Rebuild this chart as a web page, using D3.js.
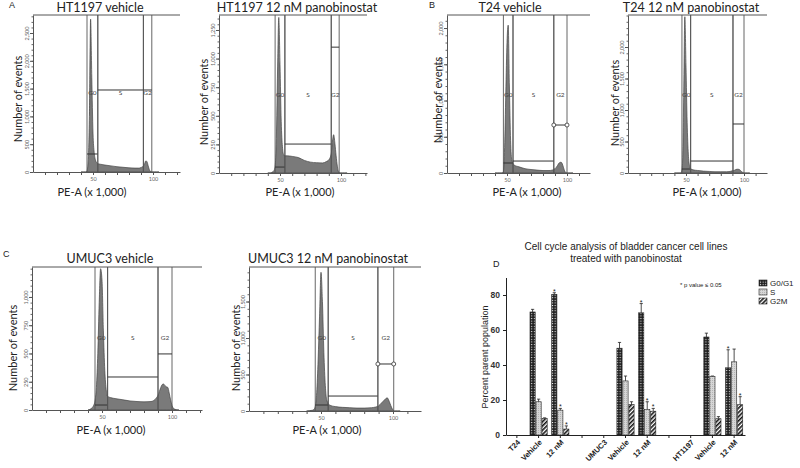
<!DOCTYPE html>
<html lang="en">
<head>
<meta charset="UTF-8">
<title>Cell cycle analysis of bladder cancer cell lines</title>
<script src="https://d3js.org/d3.v7.min.js"></script>
<style>
  body { margin: 0; background: #fff; }
  svg { display: block; background: #fff; }
  .hist text { font-family: Lato, "Open Sans", sans-serif; }
  .bars text { font-family: "Liberation Sans", Arial, sans-serif; }
</style>
</head>
<body>
<svg id="svg" width="800" height="468"></svg>
<script>
// PE-A channel (x 1,000) positions where the histograms were read
const peGrid = [40, 42, 44, 45, 46, 47, 48, 49, 50, 51, 52, 53, 54, 56, 60, 65, 70, 75, 80, 85, 88, 90, 92, 93, 94, 95, 96, 97, 98, 99, 100, 101, 103, 105];

// number of events at each peGrid point
const ht1197VehCounts = [0, 0, 0, 20, 200, 1000, 2750, 1700, 700, 350, 220, 170, 150, 140, 125, 110, 95, 85, 75, 70, 70, 80, 110, 150, 200, 185, 110, 40, 8, 0, 0, 0, 0, 0];
const ht1197PanoCounts = [0, 0, 10, 20, 60, 300, 900, 1360, 950, 450, 230, 160, 150, 150, 145, 135, 110, 95, 90, 88, 100, 115, 170, 280, 335, 260, 150, 60, 10, 0, 0, 0, 0, 0];
const t24VehCounts = [0, 0, 0, 0, 0, 20, 350, 1100, 1800, 2040, 1200, 450, 180, 110, 85, 60, 48, 40, 34, 34, 42, 60, 100, 130, 145, 150, 130, 80, 30, 5, 0, 0, 0, 0];
const t24PanoCounts = [0, 0, 0, 0, 10, 150, 1200, 2480, 1700, 800, 300, 120, 70, 50, 40, 30, 25, 20, 20, 20, 25, 35, 45, 55, 60, 60, 55, 40, 20, 8, 0, 0, 0, 0];
const umuc3VehCounts = [0, 10, 40, 80, 200, 500, 950, 1250, 1150, 700, 350, 180, 120, 110, 100, 90, 80, 75, 72, 75, 95, 130, 200, 225, 230, 215, 205, 200, 150, 90, 40, 15, 3, 0];
const umuc3PanoCounts = [0, 5, 10, 20, 60, 250, 700, 1300, 1900, 1500, 800, 350, 150, 80, 60, 50, 45, 40, 40, 45, 55, 70, 110, 130, 150, 170, 180, 150, 100, 50, 15, 0, 0, 0];

// gates: [from PE, to PE, marker level in events]
const gateNames = ["G0", "S", "G2"];
const ht1197VehGates = [[45, 54, 324], [54, 92, 1475], [92, 99, 1475]];
const ht1197PanoGates = [[46, 54, 52], [54, 92, 253], [92, 98.5, 1100]];
const t24VehGates = [[47, 55, 138], [55, 89, 165], [89, 100, 662]];
const t24PanoGates = [[46.5, 54, 63], [54, 90.5, 190], [90.5, 100, 778]];
const umuc3VehGates = [[45, 54, 44], [54, 90, 292], [90, 100, 496]];
const umuc3PanoGates = [[46, 55, 82], [55, 89.5, 205], [89.5, 100.5, 644]];

// y tick labels
const ht1197VehTicks = [0, 500, 1000, 1500, 2000, 2500];
const ht1197PanoTicks = [0, 250, 500, 750, 1000, 1250];
const t24VehTicks = [0, 500, 1000, 1500, 2000];
const t24PanoTicks = [0, 500, 1000, 1500, 2000];
const umuc3VehTicks = [0, 250, 500, 750, 1000];
const umuc3PanoTicks = [0, 500, 1000, 1500];
const peLabelTicks = [50, 100];

// panel D
const xLabels = ["T24", "Vehicle", "12 nM", "", "UMUC3", "Vehicle", "12 nM", "", "HT1197", "Vehicle", "12 nM"];
const barSlot = [1, 2, 5, 6, 9, 10];
const phases = ["G0/G1", "S", "G2M"];
const g0g1Mean = [70.3, 80.4, 49.6, 69.8, 56.0, 38.4];
const g0g1Err = [1.5, 0.9, 3.3, 5.3, 2.2, 10.3];
const sMean = [19.0, 14.2, 30.9, 14.5, 33.4, 41.8];
const sErr = [1.5, 1.0, 2.8, 4.5, 0.3, 7.3];
const g2mMean = [9.4, 3.4, 17.4, 13.6, 9.3, 17.3];
const g2mErr = [0.4, 1.8, 1.6, 1.6, 1.2, 4.6];
const g0g1Sig = [false, true, false, true, false, true];
const sSig = [false, true, false, true, false, false];
const g2mSig = [false, true, false, true, false, true];
const yTicksD = [0, 20, 40, 60, 80];

const svg = d3.select("#svg");

// ---------- flow cytometry histograms ----------
const panels = [
  {title: "HT1197 vehicle", counts: ht1197VehCounts, gates: ht1197VehGates, yTicks: ht1197VehTicks, yMax: 2824,
   left: 33, right: 180, top: 15, bottom: 172, k: 1.2, labelAt: 1385, handles: false,
   titleX: 100, titleY: 12, ylabX: 18, ylabY: 99, xlabX: 92, xlabY: 196},
  {title: "HT1197 12 nM panobinostat", counts: ht1197PanoCounts, gates: ht1197PanoGates, yTicks: ht1197PanoTicks, yMax: 1381,
   left: 219, right: 367, top: 15, bottom: 173, k: 1.22, labelAt: 664, handles: false,
   titleX: 297, titleY: 12, ylabX: 204, ylabY: 102, xlabX: 300, xlabY: 196},
  {title: "T24 vehicle", counts: t24VehCounts, gates: t24VehGates, yTicks: t24VehTicks, yMax: 2180,
   left: 447, right: 590, top: 15, bottom: 173, k: 1.2, labelAt: 1048, handles: true,
   titleX: 510, titleY: 12, ylabX: 438, ylabY: 100, xlabX: 527, xlabY: 196},
  {title: "T24 12 nM panobinostat", counts: t24PanoCounts, gates: t24PanoGates, yTicks: t24PanoTicks, yMax: 2508,
   left: 628, right: 767, top: 15, bottom: 173, k: 1.16, labelAt: 1206, handles: false,
   titleX: 691, titleY: 12, ylabX: 615, ylabY: 103, xlabX: 707, xlabY: 196},
  {title: "UMUC3 vehicle", counts: umuc3VehCounts, gates: umuc3VehGates, yTicks: umuc3VehTicks, yMax: 1265,
   left: 32, right: 202, top: 267, bottom: 410, k: 1.4, labelAt: 620, handles: false,
   titleX: 110, titleY: 263, ylabX: 13, ylabY: 348, xlabX: 111, xlabY: 434},
  {title: "UMUC3 12 nM panobinostat", counts: umuc3PanoCounts, gates: umuc3PanoGates, yTicks: umuc3PanoTicks, yMax: 1973,
   left: 249, right: 421, top: 267, bottom: 411, k: 1.44, labelAt: 973, handles: true,
   titleX: 328, titleY: 263, ylabX: 236, ylabY: 348, xlabX: 327, xlabY: 434}
];

panels.forEach((p, pi) => {
  const xMax = (p.right - p.left) / p.k;
  const x = d3.scaleLinear([0, xMax], [p.left, p.right]);
  const y = d3.scaleLinear([0, p.yMax], [p.bottom, p.top]);
  const g = svg.append("g").attr("class", "hist");

  g.append("clipPath").attr("id", "clip" + pi)
    .append("rect").attr("x", p.left).attr("y", p.top)
    .attr("width", p.right - p.left).attr("height", p.bottom - p.top);

  const area = d3.area()
    .x((d, i) => x(peGrid[i]))
    .y0(p.bottom)
    .y1(d => y(d))
    .curve(d3.curveMonotoneX);

  g.append("path").datum(p.counts)
    .attr("d", area)
    .attr("clip-path", `url(#clip${pi})`)
    .attr("fill", "#7a7a7a")
    .attr("stroke", "#444")
    .attr("stroke-width", 0.7);

  // gates
  p.gates.forEach((gt, gi) => {
    [gt[0], gt[1]].forEach(v => {
      g.append("line")
        .attr("x1", x(v)).attr("x2", x(v))
        .attr("y1", p.top).attr("y2", p.bottom)
        .attr("stroke", "#555").attr("stroke-width", 0.9);
    });
    g.append("line")
      .attr("x1", x(gt[0])).attr("x2", x(gt[1]))
      .attr("y1", y(gt[2])).attr("y2", y(gt[2]))
      .attr("stroke", "#333").attr("stroke-width", 1);
    if (p.handles && gi === 2) {
      [gt[0], gt[1]].forEach(v => {
        g.append("circle").attr("cx", x(v)).attr("cy", y(gt[2])).attr("r", 2)
          .attr("fill", "#fff").attr("stroke", "#333").attr("stroke-width", 0.8);
      });
    }
    g.append("text")
      .attr("x", x((gt[0] + gt[1]) / 2))
      .attr("y", y(p.labelAt))
      .attr("text-anchor", "middle")
      .attr("font-size", 6.5)
      .attr("fill", "#444")
      .text(gateNames[gi]);
  });

  // frame: top line
  g.append("line")
    .attr("x1", p.left).attr("x2", p.right)
    .attr("y1", p.top).attr("y2", p.top)
    .attr("stroke", "#555").attr("stroke-width", 1);

  // y axis, minor then major
  const step = p.yTicks[1] - p.yTicks[0];
  g.append("g").attr("transform", `translate(${p.left},0)`)
    .call(d3.axisLeft(y).tickValues(d3.range(0, p.yMax, step / 5)).tickSize(1.5).tickSizeOuter(0).tickFormat(""))
    .call(a => a.selectAll("line").attr("stroke", "#666"))
    .call(a => a.select(".domain").attr("stroke", "#555"));
  g.append("g").attr("transform", `translate(${p.left},0)`)
    .call(d3.axisLeft(y).tickValues(p.yTicks).tickSize(3).tickSizeOuter(0).tickFormat(d3.format(",")))
    .call(a => a.select(".domain").remove())
    .call(a => a.selectAll("line").attr("stroke", "#555"))
    .call(a => a.selectAll("text")
      .attr("font-size", 5.5).attr("fill", "#666")
      .attr("x", 0).attr("y", -4).attr("dy", 0)
      .attr("transform", "rotate(-90)")
      .attr("text-anchor", "middle"));

  // x axis
  g.append("g").attr("transform", `translate(0,${p.bottom})`)
    .call(d3.axisBottom(x).tickValues(d3.range(10, xMax, 10)).tickSize(3).tickSizeOuter(0)
      .tickFormat(d => peLabelTicks.includes(d) ? d : ""))
    .call(a => a.select(".domain").attr("stroke", "#555"))
    .call(a => a.selectAll("line").attr("stroke", "#555"))
    .call(a => a.selectAll("text").attr("font-size", 5.5).attr("fill", "#666").attr("y", 5));

  g.append("text")
    .attr("x", p.titleX).attr("y", p.titleY)
    .attr("text-anchor", "middle")
    .attr("font-size", 12.5)
    .attr("fill", "#222")
    .text(p.title);

  g.append("text")
    .attr("transform", `translate(${p.ylabX},${p.ylabY}) rotate(-90)`)
    .attr("text-anchor", "middle")
    .attr("dy", "0.35em")
    .attr("font-size", 11)
    .attr("fill", "#222")
    .text("Number of events");

  g.append("text")
    .attr("x", p.xlabX).attr("y", p.xlabY)
    .attr("text-anchor", "middle")
    .attr("font-size", 11)
    .attr("fill", "#222")
    .text("PE-A (x 1,000)");
});

// panel letters
[["A", 9, 8], ["B", 429, 8], ["C", 3, 257], ["D", 493, 267]].forEach(l => {
  svg.append("text")
    .attr("x", l[1]).attr("y", l[2])
    .attr("font-family", "Liberation Sans, Arial, sans-serif")
    .attr("font-size", 9)
    .attr("fill", "#222")
    .text(l[0]);
});

// ---------- panel D: bar chart ----------
const defs = svg.append("defs");
const pG0 = defs.append("pattern").attr("id", "pat-g0")
  .attr("patternUnits", "userSpaceOnUse").attr("width", 2.6).attr("height", 2.6);
pG0.append("rect").attr("width", 2.6).attr("height", 2.6).attr("fill", "#1c1c1c");
pG0.append("rect").attr("x", 0.8).attr("y", 0.8).attr("width", 1.1).attr("height", 1.1).attr("fill", "#f2f2f2");

const pS = defs.append("pattern").attr("id", "pat-s")
  .attr("patternUnits", "userSpaceOnUse").attr("width", 2).attr("height", 2);
pS.append("rect").attr("width", 2).attr("height", 2).attr("fill", "#d6d6d6");
pS.append("rect").attr("width", 1).attr("height", 1).attr("fill", "#b4b4b4");

const pG2 = defs.append("pattern").attr("id", "pat-g2")
  .attr("patternUnits", "userSpaceOnUse").attr("width", 3).attr("height", 3)
  .attr("patternTransform", "rotate(45)");
pG2.append("rect").attr("width", 3).attr("height", 3).attr("fill", "#fff");
pG2.append("rect").attr("width", 1.6).attr("height", 3).attr("fill", "#111");

const fills = ["url(#pat-g0)", "url(#pat-s)", "url(#pat-g2)"];
const means = [g0g1Mean, sMean, g2mMean];
const errs = [g0g1Err, sErr, g2mErr];
const sigs = [g0g1Sig, sSig, g2mSig];

const bars = svg.append("g").attr("class", "bars");
const xD = d3.scaleBand(d3.range(xLabels.length), [506, 745]);
const yD = d3.scaleLinear([0, 90], [435, 277.5]);

phases.forEach((ph, k) => {
  barSlot.forEach((slot, j) => {
    const cx = xD(slot) + xD.bandwidth() / 2 + (k - 1) * 6;
    const m = means[k][j], e = errs[k][j];
    bars.append("line")
      .attr("x1", cx).attr("x2", cx)
      .attr("y1", yD(m)).attr("y2", yD(m + e))
      .attr("stroke", "#222").attr("stroke-width", 0.8);
    bars.append("line")
      .attr("x1", cx - 1.6).attr("x2", cx + 1.6)
      .attr("y1", yD(m + e)).attr("y2", yD(m + e))
      .attr("stroke", "#222").attr("stroke-width", 0.8);
    bars.append("rect")
      .attr("x", cx - 2.6).attr("width", 5.2)
      .attr("y", yD(m)).attr("height", yD(0) - yD(m))
      .attr("fill", fills[k])
      .attr("stroke", "#222").attr("stroke-width", 0.6);
    if (sigs[k][j]) {
      bars.append("text")
        .attr("x", cx).attr("y", yD(m + e) + 1)
        .attr("text-anchor", "middle")
        .attr("font-size", 7)
        .attr("fill", "#222")
        .text("*");
    }
  });
});

bars.append("g").attr("transform", "translate(506,0)")
  .call(d3.axisLeft(yD).tickValues(yTicksD).tickSize(3).tickSizeOuter(0))
  .call(a => a.select(".domain").attr("stroke", "#222"))
  .call(a => a.selectAll("line").attr("stroke", "#222"))
  .call(a => a.selectAll("text").attr("font-size", 8.5).attr("font-weight", "bold").attr("fill", "#333")
    .attr("font-family", "Liberation Sans, Arial, sans-serif"));

bars.append("g").attr("transform", "translate(0,435)")
  .call(d3.axisBottom(xD).tickSize(3).tickSizeOuter(0).tickFormat(i => xLabels[i]))
  .call(a => a.select(".domain").attr("stroke", "#222"))
  .call(a => a.selectAll("line").attr("stroke", "#222"))
  .call(a => a.selectAll("text")
    .attr("font-size", 7.5).attr("font-weight", "bold").attr("fill", "#222")
    .attr("font-family", "Liberation Sans, Arial, sans-serif")
    .attr("x", 0).attr("y", 0).attr("dy", "0.35em")
    .attr("text-anchor", "end")
    .attr("transform", "translate(2,6) rotate(-45)"));

bars.append("text")
  .attr("transform", "translate(485,357) rotate(-90)")
  .attr("text-anchor", "middle")
  .attr("dy", "0.35em")
  .attr("font-size", 9)
  .attr("fill", "#222")
  .text("Percent parent population");

bars.append("text").attr("x", 626).attr("y", 250).attr("text-anchor", "middle")
  .attr("font-size", 10).attr("fill", "#222").text("Cell cycle analysis of bladder cancer cell lines");
bars.append("text").attr("x", 626).attr("y", 262).attr("text-anchor", "middle")
  .attr("font-size", 10).attr("fill", "#222").text("treated with panobinostat");

bars.append("text").attr("x", 680).attr("y", 287)
  .attr("font-size", 6).attr("fill", "#222").text("* p value \u2264 0.05");

// legend
phases.forEach((ph, k) => {
  const ly = 283 + k * 9;
  bars.append("rect")
    .attr("x", 759).attr("y", ly - 3).attr("width", 8).attr("height", 6)
    .attr("fill", fills[k]).attr("stroke", "#222").attr("stroke-width", 0.6);
  bars.append("text")
    .attr("x", 770).attr("y", ly).attr("dy", "0.35em")
    .attr("font-size", 8).attr("fill", "#222").text(ph);
});
</script>
</body>
</html>
